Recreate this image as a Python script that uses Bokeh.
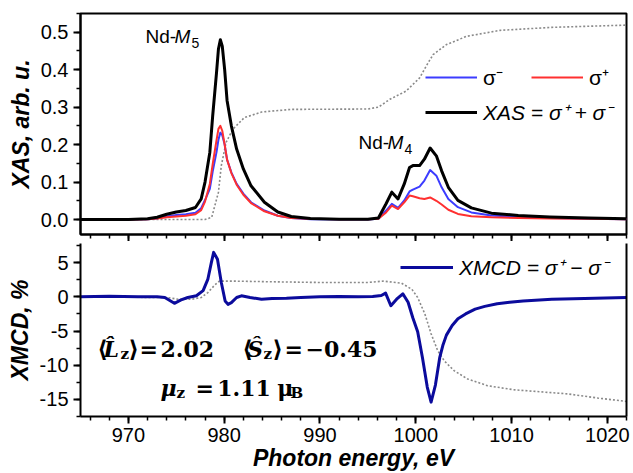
from bokeh.plotting import figure
from bokeh.models import (Range1d, Legend, LegendItem, Label, LinearAxis,
                          SingleIntervalTicker, NumeralTickFormatter, CustomJSTickFormatter)
from bokeh.layouts import column
from bokeh.embed import file_html
from bokeh.resources import INLINE

# ---------------- data ----------------
E_XAS = [965, 970, 972, 973, 974, 975, 976, 977, 977.6, 978.0, 978.5, 978.8, 979.2, 979.4,
         979.6, 979.8, 980.05, 980.3, 980.75, 981.3, 982.0, 982.8, 984.2, 985.6, 987.0, 989,
         992, 995, 996.1, 996.9, 997.5, 998.15, 998.8, 999.35, 999.7, 1000.4, 1000.9, 1001.5,
         1002.15, 1002.7, 1003.4, 1004.4, 1005.8, 1007.9, 1010.7, 1014, 1018, 1022]
XAS_SUM = [0.0, 0.0, 0.002, 0.006, 0.014, 0.020, 0.024, 0.032, 0.055, 0.100, 0.179, 0.277, 0.392,
           0.455, 0.480, 0.463, 0.400, 0.318, 0.250, 0.188, 0.135, 0.090, 0.046, 0.020, 0.008,
           0.003, 0.001, 0.001, 0.004, 0.042, 0.073, 0.055, 0.095, 0.139, 0.144, 0.144, 0.161,
           0.191, 0.170, 0.130, 0.086, 0.051, 0.031, 0.017, 0.011, 0.007, 0.004, 0.002]
SIGMA_PLUS = [0.0, 0.0, 0.001, 0.003, 0.006, 0.008, 0.010, 0.014, 0.025, 0.048, 0.095, 0.148,
              0.212, 0.242, 0.250, 0.237, 0.200, 0.160, 0.124, 0.093, 0.066, 0.044, 0.022, 0.010,
              0.004, 0.002, 0.001, 0.001, 0.002, 0.019, 0.037, 0.028, 0.046, 0.064, 0.062, 0.057,
              0.055, 0.059, 0.050, 0.040, 0.026, 0.015, 0.009, 0.006, 0.004, 0.003, 0.002, 0.001]
SIGMA_MINUS = [0.0, 0.0, 0.001, 0.003, 0.008, 0.012, 0.014, 0.018, 0.030, 0.052, 0.082, 0.128,
               0.180, 0.213, 0.232, 0.225, 0.200, 0.160, 0.126, 0.095, 0.069, 0.046, 0.024, 0.010,
               0.004, 0.001, 0.0, 0.0, 0.002, 0.024, 0.042, 0.031, 0.051, 0.075, 0.080, 0.088,
               0.104, 0.132, 0.117, 0.086, 0.055, 0.033, 0.019, 0.011, 0.007, 0.004, 0.002, 0.001]

E_STEP = [965, 978.0, 978.7, 979.4, 979.7, 980.2, 980.9, 982.1, 983.9, 987, 995, 996.1, 997.3,
          999.0, 1000.4, 1001.1, 1001.8, 1003.2, 1005.3, 1008.8, 1014.2, 1022]
XAS_STEP = [0.0, 0.0, 0.006, 0.073, 0.144, 0.206, 0.241, 0.272, 0.287, 0.294, 0.295, 0.300, 0.321,
            0.343, 0.378, 0.410, 0.440, 0.467, 0.489, 0.505, 0.513, 0.519]

E_XMCD = [965, 968, 971, 973, 973.8, 974.8, 975.5, 976.2, 977.1, 977.8, 978.3, 978.66, 978.9,
          979.3, 979.7, 980.1, 980.4, 980.75, 981.3, 981.8, 982.7, 983.9, 985, 986.5, 988, 990,
          992, 994, 995.5, 996.4, 996.85, 997.4, 998.0, 998.65, 999.2, 999.7, 1000.2, 1000.7,
          1001.2, 1001.6, 1002.05, 1002.5, 1002.85, 1003.2, 1003.8, 1004.4, 1005.2, 1006.2,
          1007.2, 1008.5, 1009.8, 1011.2, 1014.2, 1017.6, 1022]
XMCD = [0.0, 0.1, 0.0, 0.0, -0.1, -0.95, -0.45, -0.1, 0.15, 0.9, 2.6, 5.0, 6.5, 5.5, 2.1, -0.6,
        -1.1, -0.85, -0.1, 0.15, -0.1, -0.35, -0.25, -0.2, -0.1, 0.0, 0.05, 0.0, 0.05, 0.2, 0.55,
        -1.3, -0.35, 0.45, -0.8, -3.1, -5.1, -8.9, -13.2, -15.4, -12.9, -8.9, -7.0, -5.6, -4.2,
        -3.2, -2.5, -1.8, -1.4, -1.0, -0.8, -0.6, -0.35, -0.25, -0.1]

E_INT = [965, 974, 975.2, 976.6, 977.6, 978.3, 979.0, 979.5, 981, 985, 990, 995, 996.6, 998.5,
         999.6, 1000.2, 1000.95, 1001.6, 1002.3, 1003.0, 1004.0, 1005.4, 1007.5, 1010.3, 1012.2,
         1015.9, 1019, 1022]
XMCD_INT = [0.0, -0.1, -0.35, -0.35, -0.1, 0.63, 1.7, 2.3, 2.3, 2.2, 2.1, 2.1, 2.3, 2.0, 1.1,
            -0.1, -2.5, -5.4, -7.9, -9.4, -10.8, -12.0, -13.0, -13.6, -13.8, -14.2, -14.8, -15.3]

X_TICK_STEP = 10
XAS_TICK_STEP = 0.1
XMCD_TICK_STEP = 5

# ---------------- layout geometry ----------------
X_RANGE = (965.0, 1022.0)
XAS_RANGE = (-0.04, 0.55)
XMCD_RANGE = (-17.5, 7.8)
FRAME_L, FRAME_W = 80, 546
TOP_T, TOP_H = 13, 221
BOT_T, BOT_H = 243, 173

def ex(px):
    return X_RANGE[0] + (px - FRAME_L) * (X_RANGE[1] - X_RANGE[0]) / FRAME_W

def ty(py):
    return XAS_RANGE[1] - (py - TOP_T) * (XAS_RANGE[1] - XAS_RANGE[0]) / TOP_H

def by(py):
    return XMCD_RANGE[1] - (py - BOT_T) * (XMCD_RANGE[1] - XMCD_RANGE[0]) / BOT_H

SANS = "Liberation Sans"
SERIF = "DejaVu Serif"
BLUE = "#3c3cff"
RED = "#ff3030"
NAVY = "#0b0b9c"
GREY = "#8a8a8a"


def style_axis(ax, label_size="20px"):
    ax.axis_line_width = 2
    ax.axis_line_color = "black"
    ax.major_tick_line_color = "black"
    ax.minor_tick_line_color = "black"
    ax.major_tick_line_width = 2
    ax.minor_tick_line_width = 1.5
    ax.major_tick_out = 7
    ax.major_tick_in = 0
    ax.minor_tick_out = 4
    ax.minor_tick_in = 0
    ax.major_label_text_font = SANS
    ax.major_label_text_font_size = label_size
    ax.major_label_text_color = "black"
    ax.axis_label_text_font = SANS
    ax.axis_label_text_font_size = "23px"
    ax.axis_label_text_font_style = "bold italic"
    ax.axis_label_text_color = "black"


def add_text(p, text, xpx, ypx, yconv, size, style="normal", font=SANS):
    p.add_layout(Label(x=ex(xpx), y=yconv(ypx), text=text, text_font=font,
                       text_font_size=f"{size}px", text_font_style=style,
                       text_baseline="alphabetic", text_align="left", text_color="black"))

# ---------------- top panel: XAS ----------------
p1 = figure(frame_width=FRAME_W, frame_height=TOP_H,
            x_range=Range1d(*X_RANGE), y_range=Range1d(*XAS_RANGE),
            output_backend="svg", toolbar_location=None,
            min_border_left=FRAME_L, min_border_right=7, min_border_top=TOP_T, min_border_bottom=0)
p1.grid.visible = False
p1.outline_line_color = "black"
p1.outline_line_width = 2
p1.background_fill_color = "white"
p1.border_fill_color = "white"

style_axis(p1.xaxis[0])
p1.xaxis[0].ticker = SingleIntervalTicker(interval=X_TICK_STEP, num_minor_ticks=5)
p1.xaxis[0].formatter = CustomJSTickFormatter(code="return ''")
p1.xaxis[0].major_label_text_font_size = "0px"
p1.xaxis[0].major_label_standoff = 0

style_axis(p1.yaxis[0])
p1.yaxis[0].ticker = SingleIntervalTicker(interval=XAS_TICK_STEP, num_minor_ticks=2)
p1.yaxis[0].formatter = NumeralTickFormatter(format="0.0")
p1.yaxis[0].major_label_standoff = 5
p1.yaxis[0].axis_label = "XAS, arb. u."
p1.yaxis[0].axis_label_standoff = 4

p1.line(E_STEP, XAS_STEP, line_color=GREY, line_width=1.6, line_dash="2 2")
r_minus = p1.line(E_XAS, SIGMA_MINUS, line_color=BLUE, line_width=2, line_join="round")
r_plus = p1.line(E_XAS, SIGMA_PLUS, line_color=RED, line_width=2, line_join="round")
r_sum = p1.line(E_XAS, XAS_SUM, line_color="black", line_width=3, line_join="round")

leg_a = Legend(items=[LegendItem(label="σ⁻", renderers=[r_minus]),
                      LegendItem(label="σ⁺", renderers=[r_plus])],
               orientation="horizontal", location=(345, 143))
leg_b = Legend(items=[LegendItem(label="XAS = σ⁺ + σ⁻", renderers=[r_sum])],
               location=(345, 108))
for lg in (leg_a, leg_b):
    lg.background_fill_alpha = 0
    lg.border_line_alpha = 0
    lg.padding = 0
    lg.margin = 0
    lg.spacing = 28
    lg.glyph_width = 52
    lg.label_standoff = 6
    lg.label_width = 10
    lg.label_text_font = SANS
    lg.label_text_font_size = "21px"
    lg.label_text_color = "black"
leg_b.label_text_font_style = "italic"
p1.add_layout(leg_a)
p1.add_layout(leg_b)

# edge labels
add_text(p1, "Nd-", 145, 36, ty, 19)
add_text(p1, "M", 174, 36, ty, 19, "italic")
add_text(p1, "5", 191, 42, ty, 14)
add_text(p1, "Nd-", 358, 142, ty, 19)
add_text(p1, "M", 387, 142, ty, 19, "italic")
add_text(p1, "4", 404, 148, ty, 14)

# ---------------- bottom panel: XMCD ----------------
p2 = figure(frame_width=FRAME_W, frame_height=BOT_H,
            x_range=p1.x_range, y_range=Range1d(*XMCD_RANGE),
            output_backend="svg", toolbar_location=None,
            min_border_left=FRAME_L, min_border_right=7, min_border_top=2, min_border_bottom=0)
p2.grid.visible = False
p2.outline_line_color = None
p2.background_fill_color = "white"
p2.border_fill_color = "white"

style_axis(p2.xaxis[0])
p2.xaxis[0].ticker = SingleIntervalTicker(interval=X_TICK_STEP, num_minor_ticks=5)
p2.xaxis[0].formatter = NumeralTickFormatter(format="0")
p2.xaxis[0].major_label_standoff = 4
p2.xaxis[0].axis_label = "Photon energy, eV"
p2.xaxis[0].axis_label_standoff = 0

style_axis(p2.yaxis[0])
p2.yaxis[0].ticker = SingleIntervalTicker(interval=XMCD_TICK_STEP, num_minor_ticks=2)
p2.yaxis[0].formatter = NumeralTickFormatter(format="0")
p2.yaxis[0].major_label_standoff = 5
p2.yaxis[0].axis_label = "XMCD, %"
p2.yaxis[0].axis_label_standoff = 4

right = LinearAxis(ticker=SingleIntervalTicker(interval=XMCD_TICK_STEP),
                   formatter=CustomJSTickFormatter(code="return ''"))
right.axis_line_width = 2
right.major_tick_out = 0
right.major_tick_in = 0
right.minor_tick_out = 0
right.minor_tick_in = 0
right.major_label_text_font_size = "0px"
right.major_label_standoff = 0
p2.add_layout(right, "right")

p2.line(E_INT, XMCD_INT, line_color=GREY, line_width=1.6, line_dash="2 2")
r_xmcd = p2.line(E_XMCD, XMCD, line_color=NAVY, line_width=3, line_join="round")

leg_c = Legend(items=[LegendItem(label="XMCD = σ⁺ − σ⁻", renderers=[r_xmcd])],
               location=(320, 135))
leg_c.background_fill_alpha = 0
leg_c.border_line_alpha = 0
leg_c.padding = 0
leg_c.margin = 0
leg_c.glyph_width = 53
leg_c.label_standoff = 6
leg_c.label_text_font = SANS
leg_c.label_text_font_size = "21px"
leg_c.label_text_font_style = "italic"
leg_c.label_text_color = "black"
p2.add_layout(leg_c)

# moment annotations
for txt, xpx, ypx, size, st in [
        ("⟨", 96.7, 348, 23, "bold"),
        ("L\u0302", 103, 348, 22, "bold italic"),
        ("z", 120, 353, 15, "bold"),
        ("⟩", 128, 348, 23, "bold"),
        ("=", 139, 348, 22, "bold"),
        ("2.02", 160, 348, 22, "bold"),
        ("⟨", 241.7, 348, 23, "bold"),
        ("S\u0302", 246.7, 348, 22, "bold italic"),
        ("z", 263, 353, 15, "bold"),
        ("⟩", 272, 348, 23, "bold"),
        ("=", 284, 348, 22, "bold"),
        ("−0.45", 305, 348, 22, "bold"),
        ("μ", 160, 387, 22, "bold italic"),
        ("z", 176, 392, 15, "bold"),
        ("=", 195, 387, 22, "bold"),
        ("1.11", 216.7, 387, 22, "bold"),
        ("μ", 276.7, 387, 22, "bold"),
        ("B", 290, 392, 15, "bold")]:
    add_text(p2, txt, xpx, ypx, by, size, st, SERIF)

layout = column(p1, p2, spacing=0)
open("out.html", "w").write(file_html(layout, INLINE))
